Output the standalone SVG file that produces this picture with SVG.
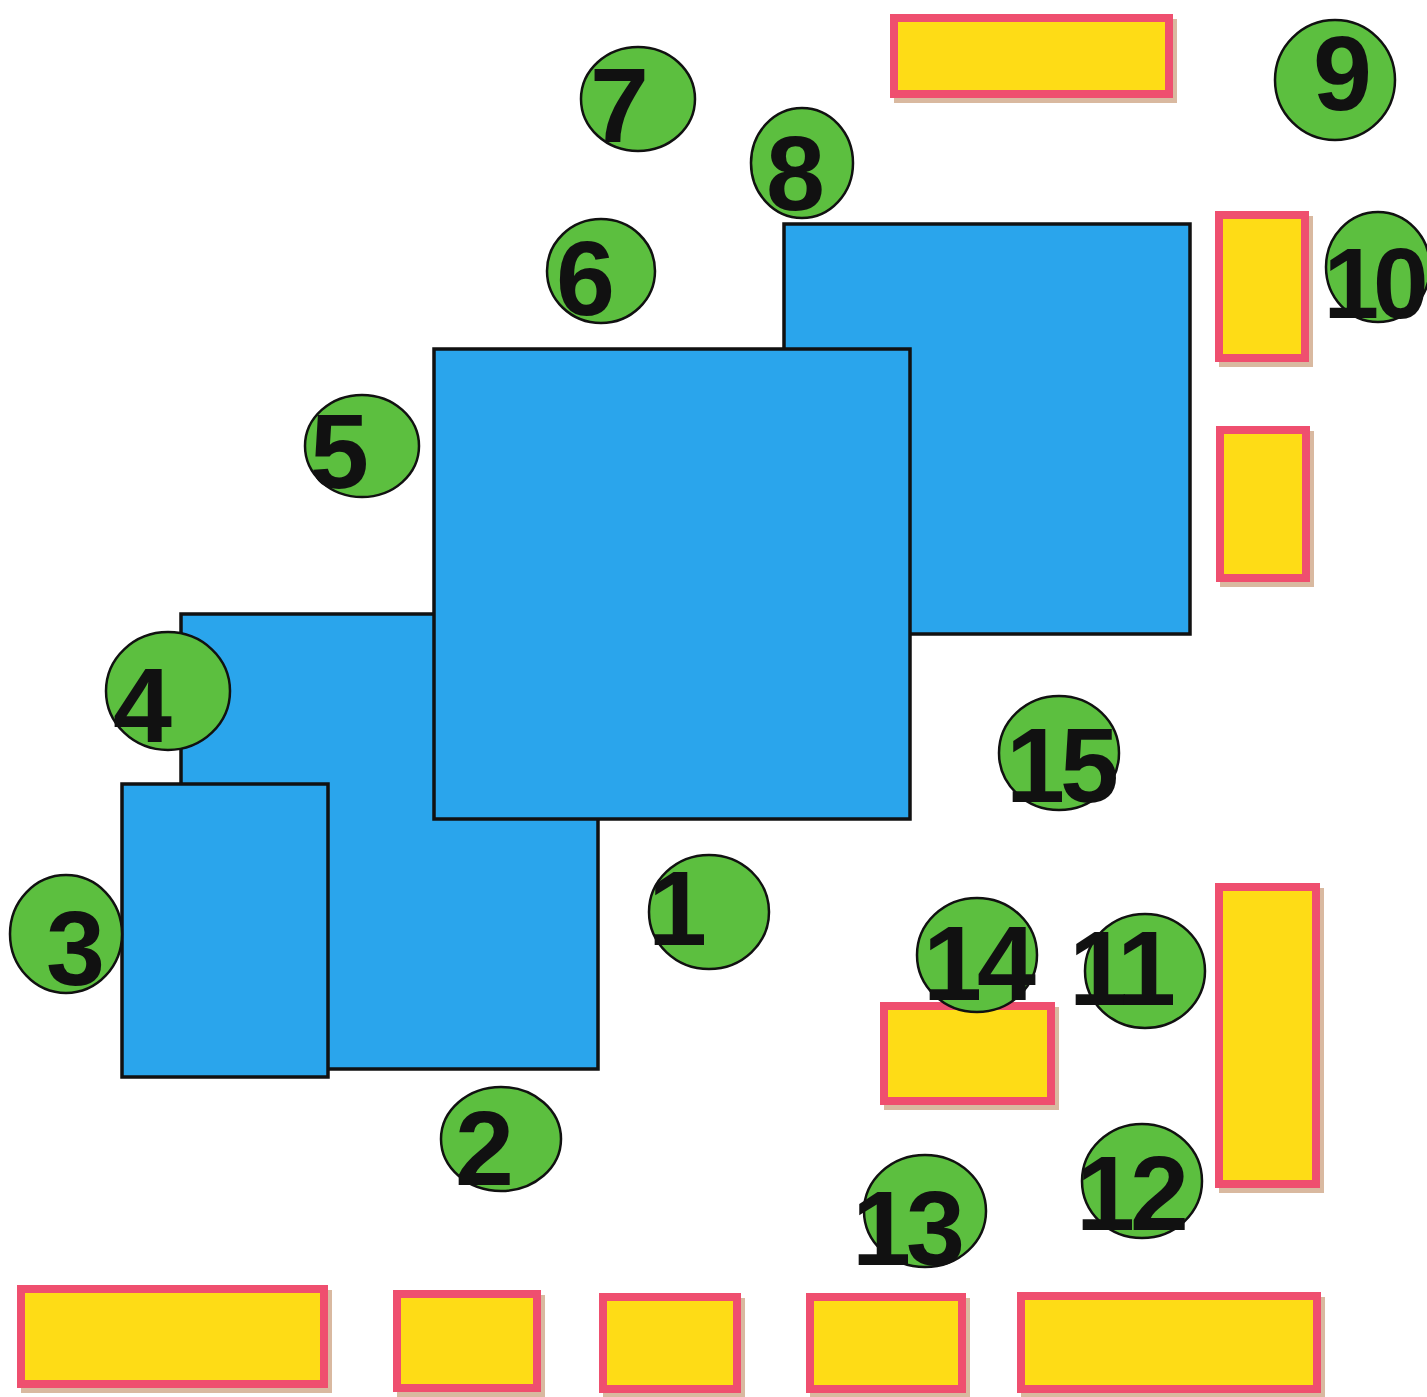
<svg xmlns="http://www.w3.org/2000/svg" width="1427" height="1397" viewBox="0 0 1427 1397">
<style>
.bg{fill:#ffffff}
.blue{fill:#2aa5ec;stroke:#111;stroke-width:3.5}
.ysh{fill:#d9b9a0}
.yel{fill:#fedc16;stroke:#ef4f6f;stroke-width:8}
.circ{fill:#5cbf3f;stroke:#111;stroke-width:2.5}
.num{font-family:"Liberation Sans",Arial,sans-serif;font-weight:bold;font-size:106px;fill:#111;text-anchor:middle;letter-spacing:-5px}
</style>
<rect class="bg" x="0" y="0" width="1427" height="1397"/>
<g id="blue-rects">
  <g id="blue-topright"><rect class="blue" x="784" y="224" width="406" height="410"/></g>
  <g id="blue-leftmid"><rect class="blue" x="181" y="614" width="417" height="455"/></g>
  <g id="blue-leftsmall"><rect class="blue" x="122" y="784" width="206" height="293"/></g>
  <g id="blue-center"><rect class="blue" x="434" y="349" width="476" height="470"/></g>
</g>
<g id="yellow-rects">
  <g id="y-top"><rect class="ysh" x="894" y="19" width="283" height="84"/><rect class="yel" x="894" y="18" width="275" height="76"/></g>
  <g id="y-r1"><rect class="ysh" x="1219" y="216" width="94" height="151"/><rect class="yel" x="1219" y="215" width="86" height="143"/></g>
  <g id="y-r2"><rect class="ysh" x="1220" y="431" width="94" height="156"/><rect class="yel" x="1220" y="430" width="86" height="148"/></g>
  <g id="y-rtall"><rect class="ysh" x="1219" y="888" width="105" height="305"/><rect class="yel" x="1219" y="887" width="97" height="297"/></g>
  <g id="y-14"><rect class="ysh" x="884" y="1007" width="175" height="103"/><rect class="yel" x="884" y="1006" width="167" height="95"/></g>
  <g id="y-b1"><rect class="ysh" x="21" y="1290" width="311" height="103"/><rect class="yel" x="21" y="1289" width="303" height="95"/></g>
  <g id="y-b2"><rect class="ysh" x="397" y="1295" width="148" height="102"/><rect class="yel" x="397" y="1294" width="140" height="94"/></g>
  <g id="y-b3"><rect class="ysh" x="603" y="1298" width="142" height="100"/><rect class="yel" x="603" y="1297" width="134" height="92"/></g>
  <g id="y-b4"><rect class="ysh" x="810" y="1298" width="160" height="100"/><rect class="yel" x="810" y="1297" width="152" height="92"/></g>
  <g id="y-b5"><rect class="ysh" x="1021" y="1297" width="304" height="101"/><rect class="yel" x="1021" y="1296" width="296" height="93"/></g>
</g>
<g id="circles">
  <g id="n7"><ellipse class="circ" cx="638" cy="99" rx="57" ry="52"/><text class="num" x="617" y="142">7</text></g>
  <g id="n8"><ellipse class="circ" cx="802" cy="163" rx="51" ry="55"/><text class="num" x="793" y="210">8</text></g>
  <g id="n9"><ellipse class="circ" cx="1335" cy="80" rx="60" ry="60"/><text class="num" x="1340" y="110">9</text></g>
  <g id="n6"><ellipse class="circ" cx="601" cy="271" rx="54" ry="52"/><text class="num" x="583" y="315">6</text></g>
  <g id="n10"><ellipse class="circ" cx="1378" cy="267" rx="52" ry="55"/><text class="num" x="1373" y="318" style="font-size:100px;letter-spacing:-6px">10</text></g>
  <g id="n5"><ellipse class="circ" cx="362" cy="446" rx="57" ry="51"/><text class="num" x="337" y="488">5</text></g>
  <g id="n4"><ellipse class="circ" cx="168" cy="691" rx="62" ry="59"/><text class="num" x="140" y="742">4</text></g>
  <g id="n15"><ellipse class="circ" cx="1059" cy="753" rx="60" ry="57"/><text class="num" x="1060" y="802">15</text></g>
  <g id="n1"><ellipse class="circ" cx="709" cy="912" rx="60" ry="57"/><text class="num" x="675" y="945">1</text></g>
  <g id="n3"><ellipse class="circ" cx="66" cy="934" rx="56" ry="59"/><text class="num" x="73" y="985">3</text></g>
  <g id="n14"><ellipse class="circ" cx="977" cy="955" rx="60" ry="57"/><text class="num" x="977" y="1000">14</text></g>
  <g id="n11"><ellipse class="circ" cx="1145" cy="971" rx="60" ry="57"/><text class="num" x="1120" y="1005">11</text></g>
  <g id="n2"><ellipse class="circ" cx="501" cy="1139" rx="60" ry="52"/><text class="num" x="482" y="1185">2</text></g>
  <g id="n12"><ellipse class="circ" cx="1142" cy="1181" rx="60" ry="57"/><text class="num" x="1130" y="1230">12</text></g>
  <g id="n13"><ellipse class="circ" cx="925" cy="1211" rx="61" ry="56"/><text class="num" x="906" y="1265">13</text></g>
</g>
</svg>
